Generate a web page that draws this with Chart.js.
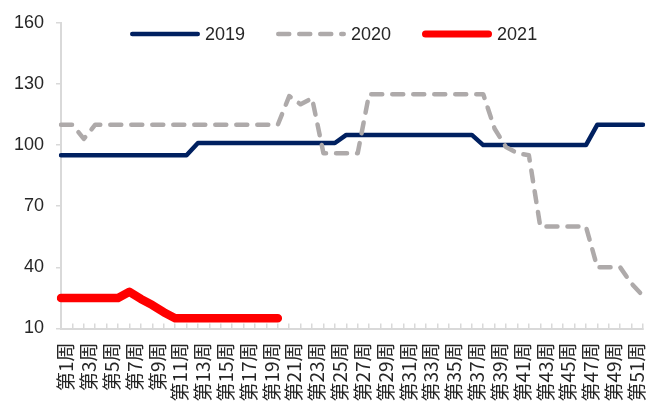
<!DOCTYPE html>
<html>
<head>
<meta charset="utf-8">
<script src="https://cdn.jsdelivr.net/npm/chart.js@4.4.1/dist/chart.umd.min.js"></script>
<style>
  html, body { margin: 0; padding: 0; background: #fff; overflow: hidden; }
  #wrap { position: relative; width: 646px; height: 401px; }
  #legend {
    position: absolute; left: 130px; top: 24px;
    display: flex; align-items: center;
    font: 18px "Liberation Sans", Arial, sans-serif; color: #262626;
  }
  .item { display: flex; align-items: center; margin-right: 31px; line-height: 20px; }
  .item svg { margin-right: 5px; display: block; }
</style>
</head>
<body>
<div id="wrap">
  <canvas id="chart" width="646" height="401"></canvas>
  <div id="legend"></div>
</div>
<script>
// 주차 라벨
const weekLabels = [
  '第1周', '第2周', '第3周', '第4周', '第5周', '第6周', '第7周', '第8周', '第9周', '第10周',
  '第11周', '第12周', '第13周', '第14周', '第15周', '第16周', '第17周', '第18周', '第19周', '第20周',
  '第21周', '第22周', '第23周', '第24周', '第25周', '第26周', '第27周', '第28周', '第29周', '第30周',
  '第31周', '第32周', '第33周', '第34周', '第35周', '第36周', '第37周', '第38周', '第39周', '第40周',
  '第41周', '第42周', '第43周', '第44周', '第45周', '第46周', '第47周', '第48周', '第49周', '第50周',
  '第51周', '第52周'
];

// 시리즈 이름
const seriesNames = ['2019', '2020', '2021'];

// 2019
const values2019 = [
  95, 95, 95, 95, 95, 95, 95, 95, 95, 95, 95, 95,
  101, 101, 101, 101, 101, 101, 101, 101, 101, 101, 101, 101, 101,
  105, 105, 105, 105, 105, 105, 105, 105, 105, 105, 105, 105,
  100, 100, 100, 100, 100, 100, 100, 100, 100, 100,
  110, 110, 110, 110, 110
];

// 2020
const values2020 = [
  110, 110, 103, 110, 110, 110, 110, 110, 110, 110,
  110, 110, 110, 110, 110, 110, 110, 110, 110, 110,
  124, 120, 123, 96, 96, 96, 96, 125, 125, 125,
  125, 125, 125, 125, 125, 125, 125, 125, 108, 99,
  96, 95, 60, 60, 60, 60, 60, 40, 40, 40,
  32, 26
];

// 2021
const values2021 = [
  25, 25, 25, 25, 25, 25, 28, 24.5, 21.5, 18,
  15, 15, 15, 15, 15, 15, 15, 15, 15, 15
];

// y축 눈금
const yMin = 10;
const yMax = 160;
const yStep = 30;

const lineColors = ['#002060', '#aeaaaa', '#ff0000'];
const textColor = '#262626';
const axisColor = '#d9d9d9';

// 범례 (HTML)
function buildLegend() {
  const legendBox = document.getElementById('legend');
  const legendStyles = [
    { width: 4.5, dash: '' },
    { width: 4.5, dash: '11 10' },
    { width: 7, dash: '' }
  ];
  seriesNames.forEach((name, i) => {
    const item = document.createElement('div');
    item.className = 'item';
    const st = legendStyles[i];
    const half = st.width / 2;
    item.innerHTML = `
      <svg width="70" height="10">
        <line x1="${half}" y1="5" x2="${70 - half}" y2="5" stroke="${lineColors[i]}"
          stroke-width="${st.width}" stroke-linecap="round" ${st.dash ? `stroke-dasharray="${st.dash}"` : ''}/>
      </svg>
      <span>${name}</span>`;
    legendBox.appendChild(item);
  });
}

buildLegend();

const ctx = document.getElementById('chart').getContext('2d');
const chart = new Chart(ctx, {
  type: 'line',
  data: {
    labels: weekLabels,
    datasets: [
      {
        label: seriesNames[0],
        data: values2019,
        borderColor: lineColors[0],
        borderWidth: 4.5,
        pointRadius: 0,
        tension: 0,
        borderJoinStyle: 'round',
        borderCapStyle: 'round',
        order: 3
      },
      {
        label: seriesNames[1],
        data: values2020,
        borderColor: lineColors[1],
        borderWidth: 4.5,
        borderDash: [11, 10],
        pointRadius: 0,
        tension: 0,
        borderJoinStyle: 'round',
        borderCapStyle: 'round',
        order: 2
      },
      {
        label: seriesNames[2],
        data: values2021,
        borderColor: lineColors[2],
        borderWidth: 8.5,
        pointRadius: 0,
        tension: 0,
        borderJoinStyle: 'round',
        borderCapStyle: 'round',
        order: 1
      }
    ]
  },
  options: {
    responsive: false,
    animation: false,
    layout: { padding: { top: 18, right: 3, left: 0, bottom: 0 } },
    plugins: {
      legend: { display: false },
      tooltip: { enabled: false }
    },
    scales: {
      x: {
        grid: {
          drawOnChartArea: false,
          drawTicks: true,
          tickLength: -5,
          color: axisColor,
          lineWidth: 1.5
        },
        border: { color: axisColor, width: 2 },
        ticks: {
          autoSkip: false,
          maxRotation: 90,
          minRotation: 90,
          padding: 19,
          labelOffset: 5,
          color: textColor,
          font: { family: '"Noto Sans CJK SC", sans-serif', size: 19, lineHeight: 1 },
          // 홀수 주차만 표시
          callback: function(value, index) {
            return index % 2 === 0 ? this.getLabelForValue(value) : '';
          }
        },
        afterFit: function(scale) {
          scale.height = 72.5;
          // 회전 라벨 때문에 생기는 좌우 여백 제거
          scale.paddingLeft = 0;
          scale.paddingRight = 0;
        }
      },
      y: {
        min: yMin,
        max: yMax,
        ticks: {
          stepSize: yStep,
          padding: 12,
          color: textColor,
          font: { family: '"Liberation Sans", Arial, sans-serif', size: 18 }
        },
        grid: {
          drawOnChartArea: false,
          drawTicks: true,
          tickLength: 5,
          color: axisColor,
          lineWidth: 1.5
        },
        border: { color: axisColor, width: 2 },
        afterFit: function(scale) {
          scale.width = 61;
        }
      }
    }
  }
});
</script>
</body>
</html>
